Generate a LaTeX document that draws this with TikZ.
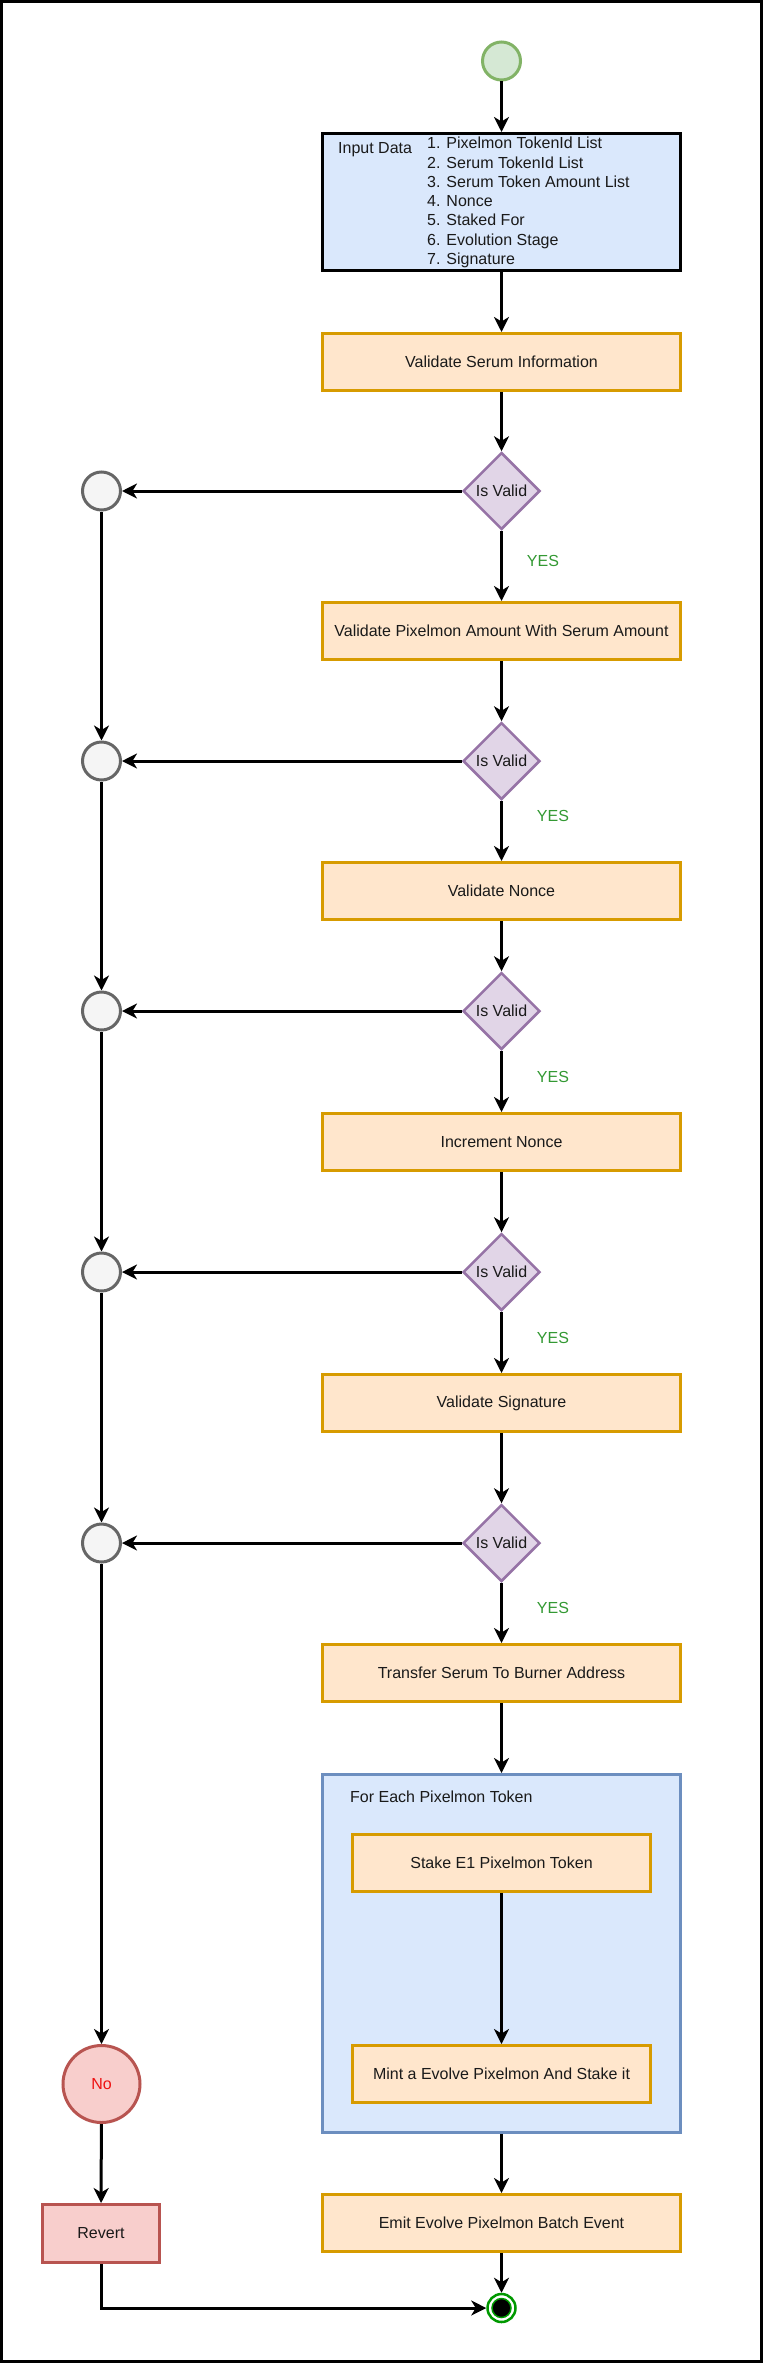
\documentclass[tikz,border=0pt]{standalone}
\usepackage{fontspec}
\setmainfont{Liberation Sans}
\usetikzlibrary{shapes.geometric,arrows.meta}
\definecolor{txt}{HTML}{1A1A1A}
\definecolor{orfill}{HTML}{FFE6CC}
\definecolor{ordraw}{HTML}{D79B00}
\definecolor{blfill}{HTML}{DAE8FC}
\definecolor{bldraw}{HTML}{6C8EBF}
\definecolor{pufill}{HTML}{E1D5E7}
\definecolor{pudraw}{HTML}{9673A6}
\definecolor{grfill}{HTML}{D5E8D4}
\definecolor{grdraw}{HTML}{82B366}
\definecolor{gyfill}{HTML}{F5F5F5}
\definecolor{gydraw}{HTML}{666666}
\definecolor{rdfill}{HTML}{F8CECC}
\definecolor{rddraw}{HTML}{B85450}
\definecolor{yesc}{HTML}{339933}
\definecolor{endg}{HTML}{009900}
\definecolor{notxt}{HTML}{EE1111}
\begin{document}
\begin{tikzpicture}[x=1pt,y=-1pt,
  every node/.style={font=\fontsize{16}{19.2}\selectfont, text=txt, inner sep=0pt},
  proc/.style={rectangle, draw=ordraw, fill=orfill, line width=3pt, minimum width=358pt, minimum height=57pt},
  inproc/.style={proc, minimum width=298pt},
  dec/.style={diamond, aspect=1, draw=pudraw, fill=pufill, line width=2.5pt, minimum width=77pt, minimum height=77pt},
  merge/.style={circle, draw=gydraw, fill=gyfill, line width=3pt, minimum size=38pt},
  yes/.style={text=yesc},
  arr/.style={line width=3pt, draw=black, -{Stealth[length=15pt,width=15pt,inset=4.5pt]}},
  ln/.style={anchor=base west}
]
\useasboundingbox (0,0) rectangle (763,2363);
\fill[white] (0,0) rectangle (763,2363);
\draw[line width=3pt] (1.5,1.5) rectangle (761.5,2361.5);

% start
\node[circle, draw=grdraw, fill=grfill, line width=3pt, minimum size=38pt] (start) at (501.5,61) {};

% input data
\node[rectangle, draw=black, fill=blfill, line width=3pt, minimum width=358pt, minimum height=137pt] (inp) at (501.5,202) {};
\node[ln] (inlab) at (338,153.5) {Input Data};
\node[ln] (l1) at (427,149.0) {1. Pixelmon TokenId List};
\node[ln] (l2) at (427,168.2) {2. Serum TokenId List};
\node[ln] (l3) at (427,187.4) {3. Serum Token Amount List};
\node[ln] (l4) at (427,206.6) {4. Nonce};
\node[ln] (l5) at (427,225.8) {5. Staked For};
\node[ln] (l6) at (427,245.0) {6. Evolution Stage};
\node[ln] (l7) at (427,264.2) {7. Signature};

% main column
\node[proc] (serum) at (501.5,362) {Validate Serum Information};
\node[dec] (d1) at (501.5,491) {Is Valid};
\node[yes] (y1) at (543,561) {YES};
\node[proc] (amt) at (501.5,631) {Validate Pixelmon Amount With Serum Amount};
\node[dec] (d2) at (501.5,761) {Is Valid};
\node[yes] (y2) at (553,816) {YES};
\node[proc] (nonce) at (501.5,891) {Validate Nonce};
\node[dec] (d3) at (501.5,1011) {Is Valid};
\node[yes] (y3) at (553,1077) {YES};
\node[proc] (incr) at (501.5,1142) {Increment Nonce};
\node[dec] (d4) at (501.5,1272) {Is Valid};
\node[yes] (y4) at (553,1338) {YES};
\node[proc] (sig) at (501.5,1403) {Validate Signature};
\node[dec] (d5) at (501.5,1543) {Is Valid};
\node[yes] (y5) at (553,1608) {YES};
\node[proc] (xfer) at (501.5,1673) {Transfer Serum To Burner Address};

% loop container
\node[rectangle, draw=bldraw, fill=blfill, line width=3pt, minimum width=358pt, minimum height=358pt] (loop) at (501.5,1953.5) {};
\node[anchor=base west] (looplab) at (350,1802.5) {For Each Pixelmon Token};
\node[inproc] (stake) at (501.5,1863) {Stake E1 Pixelmon Token};
\node[inproc] (mint) at (501.5,2074) {Mint a Evolve Pixelmon And Stake it};
\node[proc] (emit) at (501.5,2223) {Emit Evolve Pixelmon Batch Event};

% end
\node[circle, draw=endg, fill=white, line width=2.5pt, minimum size=28pt] (end) at (501.5,2308) {};
\node[circle, draw=endg, fill=black, line width=1.5pt, minimum size=19pt] (endin) at (501.5,2308) {};

% left column
\node[merge] (m1) at (101.5,491) {};
\node[merge] (m2) at (101.5,761) {};
\node[merge] (m3) at (101.5,1011) {};
\node[merge] (m4) at (101.5,1272) {};
\node[merge] (m5) at (101.5,1543) {};
\node[circle, draw=rddraw, fill=rdfill, line width=3pt, minimum size=77pt, text=notxt] (no) at (101.5,2084) {No};
\node[rectangle, draw=rddraw, fill=rdfill, line width=3pt, minimum width=117pt, minimum height=58pt] (rev) at (101,2233.5) {Revert};

% connectors
\draw[arr] (start) -- (inp);
\draw[arr] (inp) -- (serum);
\draw[arr] (serum) -- (d1);
\draw[arr] (d1) -- (amt);
\draw[arr] (amt) -- (d2);
\draw[arr] (d2) -- (nonce);
\draw[arr] (nonce) -- (d3);
\draw[arr] (d3) -- (incr);
\draw[arr] (incr) -- (d4);
\draw[arr] (d4) -- (sig);
\draw[arr] (sig) -- (d5);
\draw[arr] (d5) -- (xfer);
\draw[arr] (xfer) -- (loop.north);
\draw[arr] (stake) -- (mint);
\draw[arr] (loop.south) -- (emit);
\draw[arr] (emit) -- (end);

\draw[arr] (d1.west) -- (m1);
\draw[arr] (d2.west) -- (m2);
\draw[arr] (d3.west) -- (m3);
\draw[arr] (d4.west) -- (m4);
\draw[arr] (d5.west) -- (m5);
\draw[arr] (m1) -- (m2);
\draw[arr] (m2) -- (m3);
\draw[arr] (m3) -- (m4);
\draw[arr] (m4) -- (m5);
\draw[arr] (m5) -- (no);
\draw[arr] (no) -- (rev);
\draw[arr] (rev.south) |- (end.west);
\end{tikzpicture}
\end{document}
